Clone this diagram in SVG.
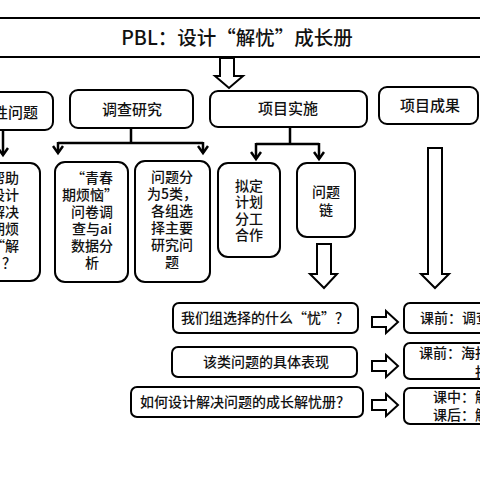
<svg xmlns="http://www.w3.org/2000/svg" width="480" height="480" viewBox="0 0 480 480">
<defs>
<style>
.box{fill:#fff;stroke:#000;stroke-width:2}
.t{font-family:"Noto Sans CJK SC","Liberation Serif",serif;font-weight:500;fill:#111;text-anchor:middle}
.s{font-family:"Noto Sans CJK SC","Liberation Serif",serif;font-weight:500;fill:#111}
.c{fill:none;stroke:#000;stroke-width:2.5}
.ba{fill:#fff;stroke:#000;stroke-width:2;stroke-linejoin:miter}
</style>
<marker id="chev" markerUnits="userSpaceOnUse" markerWidth="14" markerHeight="12" refX="10" refY="6" orient="auto" viewBox="0 0 14 12">
<polyline points="3,1 10,6 3,11" fill="none" stroke="#000" stroke-width="2.5"/>
</marker>
</defs>
<rect width="480" height="480" fill="#fff"/>

<g id="title">
<rect x="-5" y="18" width="490" height="39" fill="#fff" stroke="#000" stroke-width="2"/>
<text class="t" x="237" y="45" font-size="19.5">PBL：设计“解忧”成长册</text>
</g>

<g id="connectors">
<path class="ba" d="M220,58 H234 V76 H243 L229,88 L215,76 H220 Z"/>
<path class="c" d="M3,130 V155" marker-end="url(#chev)"/>
<path class="c" d="M131,128 V143 M58,143 H203"/>
<path class="c" d="M58,142 V153" marker-end="url(#chev)"/>
<path class="c" d="M203,142 V153" marker-end="url(#chev)"/>
<path class="c" d="M290,127 V144 M256,144 H319"/>
<path class="c" d="M256,143 V159" marker-end="url(#chev)"/>
<path class="c" d="M319,143 V159" marker-end="url(#chev)"/>
<path class="ba" d="M317,244 H331 V274 H337 L324,288 L310,274 H317 Z"/>
<path class="ba" d="M428,148 H442 V274 H449 L435,288 L421,274 H428 Z"/>
<path class="ba" d="M372,317 H386 V311 L398,322 L386,333 V327 H372 Z"/>
<path class="ba" d="M372,361 H386 V355 L398,366 L386,377 V371 H372 Z"/>
<path class="ba" d="M372,400 H386 V394 L398,405 L386,416 V410 H372 Z"/>
</g>

<g id="n-left-top">
<rect class="box" x="-10" y="92" width="63" height="38" rx="8"/>
<text class="s" x="38" y="118" font-size="15" text-anchor="end">性问题</text>
</g>
<g id="n-diaocha">
<rect class="box" x="70" y="90" width="123" height="38" rx="8"/>
<text class="t" x="132" y="115" font-size="15">调查研究</text>
</g>
<g id="n-shishi">
<rect class="box" x="210" y="91" width="157" height="36" rx="8"/>
<text class="t" x="288" y="114" font-size="15">项目实施</text>
</g>
<g id="n-chengguo">
<rect class="box" x="379" y="87" width="99" height="37" rx="8"/>
<text class="t" x="430" y="111" font-size="15">项目成果</text>
</g>

<g id="n-left-2">
<rect class="box" x="-20" y="163" width="60" height="118" rx="10"/>
<text class="t" font-size="14"><tspan x="5" y="183">帮助</tspan><tspan x="5" y="200">设计</tspan><tspan x="5" y="217">解决</tspan><tspan x="5" y="234">期烦</tspan><tspan x="5" y="251">“解</tspan><tspan x="9" y="268">？</tspan></text>
</g>
<g id="n-wenjuan">
<rect class="box" x="55" y="162" width="73" height="120" rx="10"/>
<text class="t" font-size="14"><tspan x="92" y="183">“青春</tspan><tspan x="90" y="200">期烦恼”</tspan><tspan x="92" y="217">问卷调</tspan><tspan x="92" y="234">查与ai</tspan><tspan x="92" y="251">数据分</tspan><tspan x="92" y="268">析</tspan></text>
</g>
<g id="n-fenlei">
<rect class="box" x="135" y="161" width="75" height="121" rx="10"/>
<text class="t" font-size="14"><tspan x="172" y="182">问题分</tspan><tspan x="172" y="199">为5类，</tspan><tspan x="172" y="216">各组选</tspan><tspan x="172" y="233">择主要</tspan><tspan x="172" y="250">研究问</tspan><tspan x="172" y="267">题</tspan></text>
</g>
<g id="n-jihua">
<rect class="box" x="218" y="163" width="62" height="94" rx="10"/>
<text class="t" font-size="14"><tspan x="249" y="191">拟定</tspan><tspan x="249" y="207">计划</tspan><tspan x="249" y="224">分工</tspan><tspan x="249" y="240">合作</tspan></text>
</g>
<g id="n-wentilian">
<rect class="box" x="297" y="163" width="58" height="74" rx="10"/>
<text class="t" font-size="14"><tspan x="326" y="197">问题</tspan><tspan x="326" y="215">链</tspan></text>
</g>

<g id="n-q1">
<rect class="box" x="173" y="303" width="185" height="30" rx="6"/>
<text class="t" x="265" y="323" font-size="14">我们组选择的什么“忧”？</text>
</g>
<g id="n-q2">
<rect class="box" x="172" y="347" width="185" height="30" rx="6"/>
<text class="t" x="266" y="367" font-size="14">该类问题的具体表现</text>
</g>
<g id="n-q3">
<rect class="box" x="131" y="387" width="232" height="30" rx="6"/>
<text class="t" x="245" y="407" font-size="14">如何设计解决问题的成长解忧册？</text>
</g>

<g id="n-r1">
<rect class="box" x="404" y="303" width="100" height="30" rx="6"/>
<text class="s" x="420" y="323" font-size="14">课前：调查</text>
</g>
<g id="n-r2">
<rect class="box" x="404" y="343" width="100" height="36" rx="6"/>
<text class="s" x="419" y="358" font-size="14">课前：海报</text>
<text class="s" x="475" y="377" font-size="14">报</text>
</g>
<g id="n-r3">
<rect class="box" x="404" y="388" width="100" height="36" rx="6"/>
<text class="s" x="433" y="402" font-size="14">课中：解</text>
<text class="s" x="433" y="420" font-size="14">课后：解</text>
</g>
</svg>
